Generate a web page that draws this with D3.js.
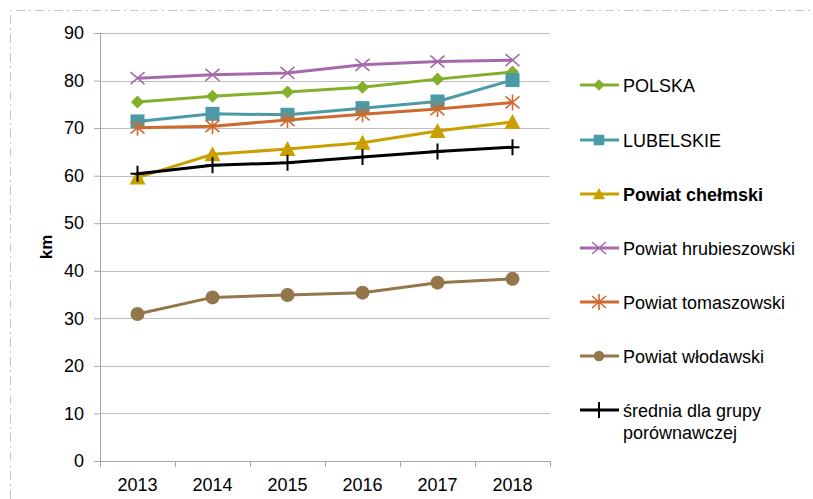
<!DOCTYPE html>
<html>
<head>
<meta charset="utf-8">
<script src="https://cdn.jsdelivr.net/npm/d3@7"></script>
<style>
  body { margin: 0; background: #fff; }
  text { font-family: "Liberation Sans", Arial, sans-serif; fill: #000; }
</style>
</head>
<body>
<svg id="chart" width="813" height="499"></svg>
<script>
// data
const years = ['2013', '2014', '2015', '2016', '2017', '2018'];
const yTicks = [0, 10, 20, 30, 40, 50, 60, 70, 80, 90];
const seriesNames = ['POLSKA', 'LUBELSKIE', 'Powiat chełmski', 'Powiat hrubieszowski',
  'Powiat tomaszowski', 'Powiat włodawski', 'średnia dla grupy porównawczej'];
const polska = [75.5, 76.7, 77.6, 78.6, 80.3, 81.8];
const lubelskie = [71.4, 73.0, 72.8, 74.2, 75.6, 80.1];
const chelmski = [59.6, 64.5, 65.6, 66.9, 69.4, 71.3];
const hrubieszowski = [80.5, 81.2, 81.6, 83.3, 84.0, 84.3];
const tomaszowski = [70.1, 70.4, 71.7, 72.9, 74.0, 75.4];
const wlodawski = [30.9, 34.4, 34.9, 35.4, 37.5, 38.3];
const srednia = [60.4, 62.2, 62.7, 63.9, 65.1, 66.0];

const series = [
  { name: seriesNames[0], values: polska, color: '#82b02b', marker: 'diamond' },
  { name: seriesNames[1], values: lubelskie, color: '#4a9ba6', marker: 'square' },
  { name: seriesNames[2], values: chelmski, color: '#c9a000', marker: 'triangle', bold: true },
  { name: seriesNames[3], values: hrubieszowski, color: '#a56aab', marker: 'x' },
  { name: seriesNames[4], values: tomaszowski, color: '#d0692e', marker: 'star' },
  { name: seriesNames[5], values: wlodawski, color: '#937649', marker: 'circle' },
  { name: seriesNames[6], values: srednia, color: '#000000', marker: 'plus' }
];

const FONT = '"Liberation Sans", Arial, sans-serif';
const svg = d3.select('#chart');
const margin = { left: 100, right: 263, top: 33, bottom: 38 };
const width = 813 - margin.left - margin.right;
const height = 499 - margin.top - margin.bottom;

// outer dash-dot frame
svg.append('path')
  .attr('d', 'M10.5,499 L10.5,10.5 L813,10.5')
  .attr('fill', 'none')
  .attr('stroke', '#c3c7cb')
  .attr('stroke-width', 1)
  .attr('stroke-dasharray', '9,4,2,4');

const g = svg.append('g').attr('transform', 'translate(' + margin.left + ',' + margin.top + ')');

const x = d3.scaleBand().domain(years).range([0, width]);
const y = d3.scaleLinear().domain([0, 90]).range([height, 0]);

// gridlines
g.selectAll('.grid')
  .data(yTicks.filter(function(d) { return d > 0; }))
  .enter().append('line')
    .attr('class', 'grid')
    .attr('x1', 0).attr('x2', width)
    .attr('y1', function(d) { return Math.round(y(d)) + 0.5; })
    .attr('y2', function(d) { return Math.round(y(d)) + 0.5; })
    .attr('stroke', '#bfbfbf');

// y axis
const yAxis = d3.axisLeft(y).tickValues(yTicks).tickSize(6).tickPadding(10);
const ya = g.append('g').call(yAxis);
ya.select('.domain').attr('stroke', '#a6a6a6');
ya.selectAll('.tick line').attr('stroke', '#a6a6a6');
ya.selectAll('.tick text').style('font-size', '18px').style('font-family', FONT).attr('fill', '#000');

// x axis
const xAxis = d3.axisBottom(x).tickSize(0).tickPadding(17);
const xa = g.append('g').attr('transform', 'translate(0,' + height + ')').call(xAxis);
xa.select('.domain').attr('stroke', '#a6a6a6');
xa.selectAll('.tick text').style('font-size', '18px').style('font-family', FONT).attr('fill', '#000');
// category separators
xa.selectAll('.sep')
  .data(years.concat(['end']))
  .enter().append('line')
    .attr('x1', function(d, i) { return Math.round(i * x.step()) + 0.5; })
    .attr('x2', function(d, i) { return Math.round(i * x.step()) + 0.5; })
    .attr('y1', 0).attr('y2', 6)
    .attr('stroke', '#a6a6a6');

// y label
svg.append('text')
  .attr('transform', 'translate(52,' + (margin.top + height / 2) + ') rotate(-90)')
  .attr('text-anchor', 'middle')
  .style('font-size', '17px')
  .style('font-weight', 'bold')
  .text('km');

function drawMarker(sel, type, color, s) {
  s = s || 1;
  if (type === 'diamond') {
    sel.append('path').attr('d', d3.symbol().type(d3.symbolDiamond2).size(110 * s)).attr('fill', color);
  } else if (type === 'square') {
    sel.append('rect').attr('x', -7 * s).attr('y', -7 * s).attr('width', 14 * s).attr('height', 14 * s).attr('fill', color);
  } else if (type === 'triangle') {
    sel.append('path').attr('d', 'M0,' + (-8 * s) + 'L' + (8 * s) + ',' + (7 * s) + 'L' + (-8 * s) + ',' + (7 * s) + 'Z').attr('fill', color);
  } else if (type === 'x') {
    sel.append('path').attr('d', 'M-7,-6L7,6M-7,6L7,-6').attr('stroke', color).attr('stroke-width', 1.6).attr('fill', 'none');
  } else if (type === 'star') {
    sel.append('path').attr('d', 'M-7,-6L7,6M-7,6L7,-6M0,-8L0,8').attr('stroke', color).attr('stroke-width', 1.6).attr('fill', 'none');
  } else if (type === 'circle') {
    sel.append('circle').attr('r', 7 * s).attr('fill', color);
  } else if (type === 'plus') {
    sel.append('path').attr('d', 'M0,-8L0,8M-7,0L7,0').attr('stroke', color).attr('stroke-width', 2).attr('fill', 'none');
  }
}

const line = d3.line()
  .x(function(d, i) { return x(years[i]) + x.bandwidth() / 2; })
  .y(function(d) { return y(d); });

series.forEach(function(s) {
  g.append('path')
    .datum(s.values)
    .attr('d', line)
    .attr('fill', 'none')
    .attr('stroke', s.color)
    .attr('stroke-width', 3);
  s.values.forEach(function(v, i) {
    const m = g.append('g').attr('transform', 'translate(' + (x(years[i]) + x.bandwidth() / 2) + ',' + y(v) + ')');
    drawMarker(m, s.marker, s.color);
  });
});

// legend
const legendY = [85, 140, 194, 248, 302, 356, 410];
const legend = svg.append('g');
series.forEach(function(s, i) {
  const row = legend.append('g').attr('transform', 'translate(580,' + legendY[i] + ')');
  row.append('line').attr('x1', 0).attr('x2', 39).attr('stroke', s.color).attr('stroke-width', 3);
  const m = row.append('g').attr('transform', 'translate(19,0)');
  if (s.marker === 'square' || s.marker === 'circle' || s.marker === 'diamond' || s.marker === 'triangle') {
    drawMarker(m, s.marker, s.color, 0.75);
  } else {
    drawMarker(m, s.marker, s.color, 1);
  }
  const t = row.append('text')
    .attr('x', 43)
    .attr('y', 6.5)
    .style('font-size', '18px')
    .style('font-weight', s.bold ? 'bold' : 'normal');
  if (i === 6) {
    t.text('średnia dla grupy');
    row.append('text').attr('x', 43).attr('y', 28.5).style('font-size', '18px').text('porównawczej');
  } else {
    t.text(s.name);
  }
});
</script>
</body>
</html>
